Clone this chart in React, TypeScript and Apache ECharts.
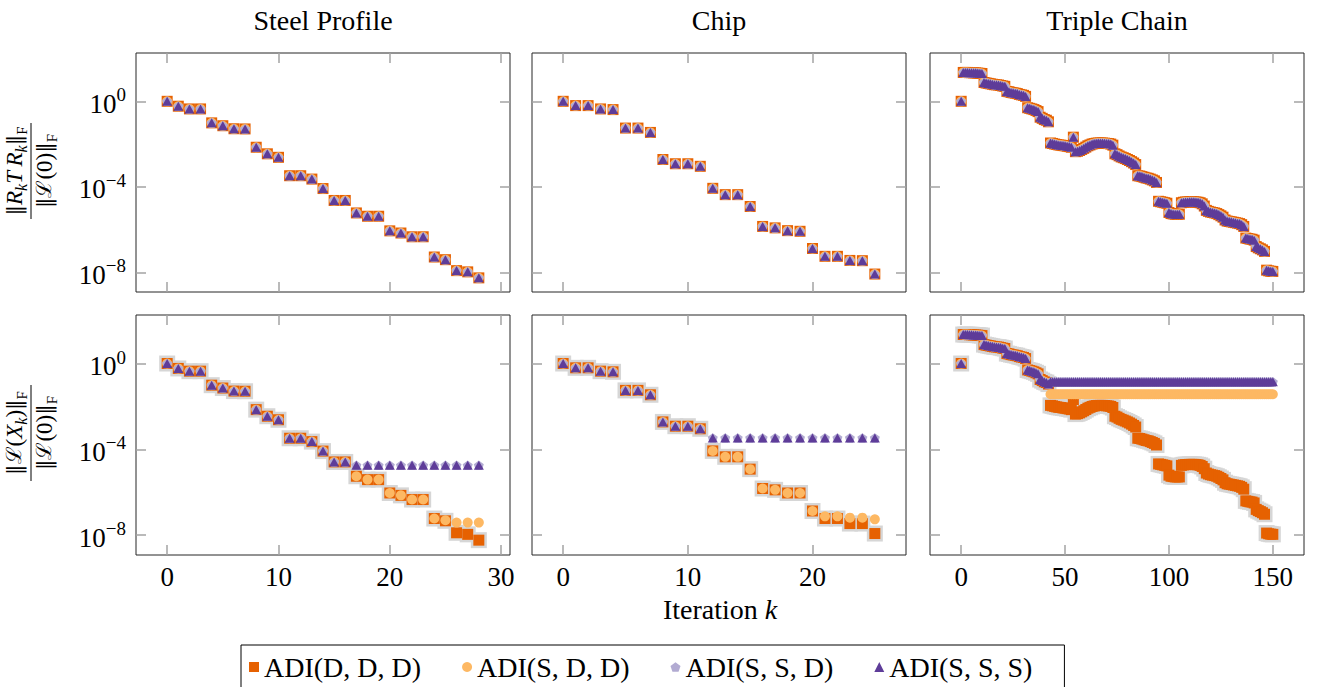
import React, { useEffect, useRef } from "react";
import * as echarts from "echarts";

// ---------------- data ----------------
const seriesNames = ["ADI(D, D, D)", "ADI(S, D, D)", "ADI(S, S, D)", "ADI(S, S, S)"];
const panelTitles = ["Steel Profile", "Chip", "Triple Chain"];
const xTicks = [
  [0, 10, 20, 30],
  [0, 10, 20],
  [0, 50, 100, 150],
];
const xRanges = [
  [-2.8, 30.8],
  [-2.5, 27.5],
  [-15, 165],
];
const yTicks = [1, 1e-4, 1e-8];
const yRange = [1.2e-9, 182];

// top row: normalized residual (all four variants coincide)
const steelRes = [
  1.0, 5.9e-1, 4.4e-1, 4.4e-1, 9.8e-2, 7.2e-2, 5.2e-2, 5.1e-2, 7.1e-3, 3.5e-3,
  2.4e-3, 3.3e-4, 3.3e-4, 2.3e-4, 8.3e-5, 2.3e-5, 2.3e-5, 6.0e-6, 4.2e-6, 4.2e-6,
  8.7e-7, 6.9e-7, 4.6e-7, 4.6e-7, 5.2e-8, 3.9e-8, 1.2e-8, 1.05e-8, 5.5e-9,
];
const chipRes = [
  1.0, 6.3e-1, 6.3e-1, 4.4e-1, 4.1e-1, 5.6e-2, 5.6e-2, 3.5e-2, 1.9e-3, 1.2e-3,
  1.2e-3, 9.1e-4, 8.5e-5, 4.3e-5, 4.3e-5, 1.2e-5, 1.4e-6, 1.2e-6, 8.9e-7, 8.3e-7,
  1.3e-7, 5.6e-8, 5.6e-8, 3.6e-8, 3.5e-8, 8.3e-9,
];
const chainRes = [
  1.0, 22.4, 22.4, 22.4, 21.9, 21.9, 21.4, 21.4, 20.9, 20.4,
  20.0, 7.6, 7.2, 6.9, 6.6, 6.3, 6.0, 5.9, 5.8, 5.5,
  5.2, 5.0, 2.9, 2.8, 2.6, 2.5, 2.4, 2.3, 2.1, 2.0,
  1.9, 1.7, 0.5, 0.47, 0.44, 0.41, 0.37, 0.33, 0.18, 0.16,
  0.14, 0.13, 0.11, 1.12e-2, 1.07e-2, 1.0e-2, 9.5e-3, 9.1e-3, 8.9e-3, 8.5e-3,
  8.3e-3, 7.9e-3, 7.6e-3, 7.1e-3, 2.1e-2, 4.4e-3, 4.6e-3, 5.0e-3, 5.6e-3, 6.3e-3,
  7.2e-3, 8.3e-3, 9.1e-3, 1.0e-2, 1.05e-2, 1.1e-2, 1.12e-2, 1.12e-2, 1.12e-2, 1.1e-2,
  1.07e-2, 1.05e-2, 1.0e-2, 8.9e-3, 3.5e-3, 3.2e-3, 2.8e-3, 2.5e-3, 2.3e-3, 2.1e-3,
  1.9e-3, 1.7e-3, 1.5e-3, 1.3e-3, 1.1e-3, 3.3e-4, 3.2e-4, 3.0e-4, 2.8e-4, 2.6e-4,
  2.5e-4, 2.3e-4, 2.1e-4, 1.9e-4, 1.6e-4, 2.1e-5, 2.0e-5, 1.9e-5, 1.8e-5, 1.7e-5,
  6.3e-6, 5.6e-6, 5.4e-6, 5.2e-6, 5.2e-6, 5.2e-6, 1.8e-5, 1.9e-5, 1.95e-5, 1.95e-5,
  2.0e-5, 2.0e-5, 2.0e-5, 1.95e-5, 1.9e-5, 1.8e-5, 1.6e-5, 1.26e-5, 7.9e-6, 7.1e-6,
  6.6e-6, 6.3e-6, 6.0e-6, 5.6e-6, 5.0e-6, 4.4e-6, 3.8e-6, 2.8e-6, 2.5e-6, 2.4e-6,
  2.3e-6, 2.2e-6, 2.1e-6, 2.0e-6, 1.9e-6, 1.7e-6, 1.4e-6, 4.0e-7, 3.8e-7, 3.6e-7,
  3.5e-7, 3.2e-7, 1.6e-7, 1.4e-7, 1.26e-7, 1.12e-7, 9.5e-8, 1.26e-8, 1.17e-8, 1.12e-8,
  1.1e-8,
];

// bottom row: normalized Lyapunov residual of X_k
const steelErrDDD = [
  1.0, 5.9e-1, 4.4e-1, 4.4e-1, 9.8e-2, 7.2e-2, 5.2e-2, 5.1e-2, 7.1e-3, 3.5e-3,
  2.4e-3, 3.3e-4, 3.3e-4, 2.3e-4, 8.3e-5, 2.6e-5, 2.6e-5, 5.6e-6, 3.9e-6, 3.9e-6,
  9.3e-7, 7.2e-7, 4.6e-7, 4.6e-7, 6.0e-8, 4.7e-8, 1.3e-8, 1.1e-8, 5.9e-9,
];
const steelErrSDD = [
  1.0, 5.9e-1, 4.4e-1, 4.4e-1, 9.8e-2, 7.2e-2, 5.2e-2, 5.1e-2, 7.1e-3, 3.5e-3,
  2.4e-3, 3.3e-4, 3.3e-4, 2.3e-4, 8.3e-5, 2.6e-5, 2.6e-5, 5.6e-6, 3.9e-6, 3.9e-6,
  9.3e-7, 7.2e-7, 4.6e-7, 4.6e-7, 6.0e-8, 5.0e-8, 3.9e-8, 3.9e-8, 3.9e-8,
];
const steelErrSSS = [
  1.0, 5.9e-1, 4.4e-1, 4.4e-1, 9.8e-2, 7.2e-2, 5.2e-2, 5.1e-2, 7.1e-3, 3.5e-3,
  2.4e-3, 3.3e-4, 3.3e-4, 2.3e-4, 8.3e-5, 2.6e-5, 2.6e-5, 1.8e-5, 1.8e-5, 1.8e-5,
  1.8e-5, 1.8e-5, 1.8e-5, 1.8e-5, 1.8e-5, 1.8e-5, 1.8e-5, 1.8e-5, 1.8e-5,
];
const chipErrDDD = [
  1.0, 6.3e-1, 6.3e-1, 4.4e-1, 4.1e-1, 5.6e-2, 5.6e-2, 3.5e-2, 1.9e-3, 1.2e-3,
  1.2e-3, 9.1e-4, 8.5e-5, 4.5e-5, 4.5e-5, 1.2e-5, 1.5e-6, 1.3e-6, 9.3e-7, 9.3e-7,
  1.35e-7, 6.0e-8, 6.0e-8, 3.5e-8, 3.5e-8, 1.2e-8,
];
const chipErrSDD = [
  1.0, 6.3e-1, 6.3e-1, 4.4e-1, 4.1e-1, 5.6e-2, 5.6e-2, 3.5e-2, 1.9e-3, 1.2e-3,
  1.2e-3, 9.1e-4, 8.5e-5, 4.5e-5, 4.5e-5, 1.2e-5, 1.5e-6, 1.3e-6, 9.3e-7, 9.3e-7,
  1.35e-7, 7.6e-8, 7.6e-8, 6.6e-8, 6.6e-8, 5.5e-8,
];
const chipErrSSS = [
  1.0, 6.3e-1, 6.3e-1, 4.4e-1, 4.1e-1, 5.6e-2, 5.6e-2, 3.5e-2, 1.9e-3, 1.2e-3,
  1.2e-3, 9.1e-4, 3.4e-4, 3.4e-4, 3.4e-4, 3.4e-4, 3.4e-4, 3.4e-4, 3.4e-4, 3.4e-4,
  3.4e-4, 3.4e-4, 3.4e-4, 3.4e-4, 3.4e-4, 3.4e-4,
];
// Triple Chain: ADI(D,D,D) error follows the residual; the others stagnate from k = 43 on
const chainErrDDD = chainRes;
const chainSDDTail = [
  3.7e-2, 3.7e-2, 3.7e-2, 3.7e-2, 3.7e-2, 3.7e-2, 3.7e-2, 3.7e-2, 3.7e-2, 3.7e-2,
  3.7e-2, 3.7e-2, 3.7e-2, 3.7e-2, 3.7e-2, 3.7e-2, 3.7e-2, 3.7e-2, 3.7e-2, 3.7e-2,
  3.7e-2, 3.7e-2, 3.7e-2, 3.7e-2, 3.7e-2, 3.7e-2, 3.7e-2, 3.7e-2, 3.7e-2, 3.7e-2,
  3.7e-2, 3.7e-2, 3.7e-2, 3.7e-2, 3.7e-2, 3.7e-2, 3.7e-2, 3.7e-2, 3.7e-2, 3.7e-2,
  3.7e-2, 3.7e-2, 3.7e-2, 3.7e-2, 3.7e-2, 3.7e-2, 3.7e-2, 3.7e-2, 3.7e-2, 3.7e-2,
  3.7e-2, 3.7e-2, 3.7e-2, 3.7e-2, 3.7e-2, 3.7e-2, 3.7e-2, 3.7e-2, 3.7e-2, 3.7e-2,
  3.7e-2, 3.7e-2, 3.7e-2, 3.7e-2, 3.7e-2, 3.7e-2, 3.7e-2, 3.7e-2, 3.7e-2, 3.7e-2,
  3.7e-2, 3.7e-2, 3.7e-2, 3.7e-2, 3.7e-2, 3.7e-2, 3.7e-2, 3.7e-2, 3.7e-2, 3.7e-2,
  3.7e-2, 3.7e-2, 3.7e-2, 3.7e-2, 3.7e-2, 3.7e-2, 3.7e-2, 3.7e-2, 3.7e-2, 3.7e-2,
  3.7e-2, 3.7e-2, 3.7e-2, 3.7e-2, 3.7e-2, 3.7e-2, 3.7e-2, 3.7e-2, 3.7e-2, 3.7e-2,
  3.7e-2, 3.7e-2, 3.7e-2, 3.7e-2, 3.7e-2, 3.7e-2, 3.7e-2, 3.7e-2,
];
const chainSSSTail = [
  0.14, 0.14, 0.14, 0.14, 0.14, 0.14, 0.14, 0.14, 0.14, 0.14,
  0.14, 0.14, 0.14, 0.14, 0.14, 0.14, 0.14, 0.14, 0.14, 0.14,
  0.14, 0.14, 0.14, 0.14, 0.14, 0.14, 0.14, 0.14, 0.14, 0.14,
  0.14, 0.14, 0.14, 0.14, 0.14, 0.14, 0.14, 0.14, 0.14, 0.14,
  0.14, 0.14, 0.14, 0.14, 0.14, 0.14, 0.14, 0.14, 0.14, 0.14,
  0.14, 0.14, 0.14, 0.14, 0.14, 0.14, 0.14, 0.14, 0.14, 0.14,
  0.14, 0.14, 0.14, 0.14, 0.14, 0.14, 0.14, 0.14, 0.14, 0.14,
  0.14, 0.14, 0.14, 0.14, 0.14, 0.14, 0.14, 0.14, 0.14, 0.14,
  0.14, 0.14, 0.14, 0.14, 0.14, 0.14, 0.14, 0.14, 0.14, 0.14,
  0.14, 0.14, 0.14, 0.14, 0.14, 0.14, 0.14, 0.14, 0.14, 0.14,
  0.14, 0.14, 0.14, 0.14, 0.14, 0.14, 0.14, 0.14,
];
const chainErrSDD = chainRes.slice(0, 43).concat(chainSDDTail);
const chainErrSSS = chainRes.slice(0, 43).concat(chainSSSTail);

// ---------------- styling ----------------
const FONT = "Liberation Serif";
const SYM_FONT = "DejaVu Serif";
const COLORS = ["#e66101", "#fdb863", "#b2abd2", "#5e3c99"];
const PENTAGON = "path://M0,-10L9.511,-3.09L5.878,8.09L-5.878,8.09L-9.511,-3.09Z";
const SYMBOLS = ["rect", "circle", PENTAGON, "triangle"];
const SIZES: any[] = [11, 10, 10, [10, 9]];
const GRID_LEFT = [136, 532, 930];
const GRID_W = 374;
const GRID_TOP = [53, 315];
const GRID_H = [239, 240];
const FS = 27;
const FS_TEXT = 28;

const toPoints = (vals: number[]) => vals.map((v, k) => [k, v]);

const mathRich = {
  n: { fontFamily: SYM_FONT, fontSize: 21, lineHeight: 26, verticalAlign: "top", color: "#000" },
  r: { fontFamily: FONT, fontSize: 23, lineHeight: 26, verticalAlign: "top", color: "#000" },
  i: { fontFamily: FONT, fontStyle: "italic", fontSize: 23, lineHeight: 26, verticalAlign: "top", color: "#000" },
  L: { fontFamily: SYM_FONT, fontSize: 21, lineHeight: 26, verticalAlign: "top", color: "#000" },
  s: { fontFamily: FONT, fontStyle: "italic", fontSize: 16, lineHeight: 15, verticalAlign: "bottom", color: "#000" },
  f: { fontFamily: FONT, fontSize: 15, lineHeight: 15, verticalAlign: "bottom", color: "#000" },
};

function fraction(cx: number, cy: number, num: string, den: string) {
  return {
    type: "group",
    x: cx,
    y: cy,
    rotation: Math.PI / 2,
    silent: true,
    children: [
      {
        type: "text",
        x: 0,
        y: -2,
        style: { text: num, rich: mathRich, align: "center", verticalAlign: "bottom", textAlign: "center", textVerticalAlign: "bottom" },
      },
      {
        type: "line",
        shape: { x1: -48, y1: 0, x2: 48, y2: 0 },
        style: { stroke: "#000", lineWidth: 1 },
      },
      {
        type: "text",
        x: 0,
        y: 2,
        style: { text: den, rich: mathRich, align: "center", verticalAlign: "top", textAlign: "center", textVerticalAlign: "top" },
      },
    ],
  };
}

function buildOption() {
  const grid: any[] = [];
  const xAxis: any[] = [];
  const yAxis: any[] = [];
  const series: any[] = [];
  const tick = { show: true, inside: true, length: 10, lineStyle: { color: "#a3a3a3", width: 1.5 } };
  const topData = [steelRes, chipRes, chainRes];
  const bottomData = [
    [steelErrDDD, steelErrSDD, steelErrSSS, steelErrSSS],
    [chipErrDDD, chipErrSDD, chipErrSSS, chipErrSSS],
    [chainErrDDD, chainErrSDD, chainErrSSS, chainErrSSS],
  ];
  const yFormatter = (v: number) => {
    const e = Math.round(Math.log10(v));
    return `{b|10}{s|${e === 0 ? "0" : "\u2212" + -e}}`;
  };

  for (let row = 0; row < 2; row++) {
    for (let col = 0; col < 3; col++) {
      const gi = row * 3 + col;
      grid.push({
        left: GRID_LEFT[col],
        top: GRID_TOP[row],
        width: GRID_W,
        height: GRID_H[row],
        show: true,
        borderColor: "#262626",
        borderWidth: 1,
        backgroundColor: "transparent",
        containLabel: false,
        outerBoundsMode: "none",
      });
      const [xmin, xmax] = xRanges[col];
      xAxis.push({
        type: "value",
        gridIndex: gi,
        position: "bottom",
        min: xmin,
        max: xmax,
        axisLine: { show: false, onZero: false },
        splitLine: { show: false },
        axisTick: { ...tick, customValues: xTicks[col] },
        axisLabel: {
          show: row === 1,
          customValues: xTicks[col],
          margin: 8,
          fontFamily: FONT,
          fontSize: FS,
          color: "#000",
        },
      });
      xAxis.push({
        type: "value",
        gridIndex: gi,
        position: "top",
        min: xmin,
        max: xmax,
        axisLine: { show: false, onZero: false },
        splitLine: { show: false },
        axisTick: { ...tick, customValues: xTicks[col] },
        axisLabel: { show: false },
      });
      yAxis.push({
        type: "log",
        logBase: 10,
        gridIndex: gi,
        position: "left",
        min: yRange[0],
        max: yRange[1],
        axisLine: { show: false, onZero: false },
        splitLine: { show: false },
        axisTick: { ...tick, customValues: yTicks },
        axisLabel: {
          show: col === 0,
          customValues: yTicks,
          margin: 10,
          formatter: yFormatter,
          color: "#000",
          fontFamily: FONT,
          rich: {
            b: { fontFamily: FONT, fontSize: FS, lineHeight: 32, verticalAlign: "bottom", color: "#000" },
            s: { fontFamily: FONT, fontSize: 19, lineHeight: 18, verticalAlign: "top", color: "#000" },
          },
        },
      });
      yAxis.push({
        type: "log",
        logBase: 10,
        gridIndex: gi,
        position: "right",
        min: yRange[0],
        max: yRange[1],
        axisLine: { show: false, onZero: false },
        splitLine: { show: false },
        axisTick: { ...tick, customValues: yTicks },
        axisLabel: { show: false },
      });

      const xi = gi * 2;
      const yi = gi * 2;
      if (row === 1) {
        // light grey halo behind the ADI(D, D, D) squares
        series.push({
          type: "scatter",
          name: "halo",
          data: toPoints(bottomData[col][0]),
          xAxisIndex: xi,
          yAxisIndex: yi,
          symbol: "rect",
          symbolSize: 16,
          itemStyle: { color: "#d6d6d6", opacity: 1 },
          silent: true,
        });
      }
      for (let s = 0; s < 4; s++) {
        const vals = row === 0 ? topData[col] : bottomData[col][s];
        series.push({
          type: "scatter",
          name: seriesNames[s],
          data: toPoints(vals),
          xAxisIndex: xi,
          yAxisIndex: yi,
          symbol: SYMBOLS[s],
          symbolSize: SIZES[s],
          symbolKeepAspect: s === 2,
          itemStyle: { color: COLORS[s], opacity: 1, borderWidth: 0 },
          silent: true,
        });
      }
    }
  }

  const graphic: any[] = [];
  panelTitles.forEach((t, i) => {
    graphic.push({
      type: "text",
      x: GRID_LEFT[i] + GRID_W / 2,
      y: 20,
      silent: true,
      style: {
        text: t,
        fontFamily: FONT,
        fontSize: FS_TEXT,
        fill: "#000",
        align: "center",
        verticalAlign: "middle",
        textAlign: "center",
        textVerticalAlign: "middle",
      },
    });
  });
  graphic.push({
    type: "text",
    x: 720,
    y: 609,
    silent: true,
    style: {
      text: "{r|Iteration }{i|k}",
      rich: {
        r: { fontFamily: FONT, fontSize: FS_TEXT, color: "#000" },
        i: { fontFamily: FONT, fontSize: FS_TEXT, fontStyle: "italic", color: "#000" },
      },
      align: "center",
      verticalAlign: "middle",
      textAlign: "center",
      textVerticalAlign: "middle",
    },
  });
  graphic.push(
    fraction(31, 171, "{n|\u2016}{i|R}{s|k}{i|T\u2009R}{s|k}{n|\u2016}{f|F}", "{n|\u2016}{L|\u2112}{r|(0)}{n|\u2016}{f|F}")
  );
  graphic.push(
    fraction(31, 433, "{n|\u2016}{L|\u2112}{r|(}{i|X}{s|k}{r|)}{n|\u2016}{f|F}", "{n|\u2016}{L|\u2112}{r|(0)}{n|\u2016}{f|F}")
  );

  return {
    animation: false,
    backgroundColor: "#fff",
    textStyle: { fontFamily: FONT },
    grid,
    xAxis,
    yAxis,
    series,
    graphic,
    legend: {
      data: seriesNames,
      left: 241,
      top: 645,
      orient: "horizontal",
      itemWidth: 10,
      itemHeight: 10,
      itemGap: 41,
      padding: [8, 32, 8, 8],
      borderColor: "#000",
      borderWidth: 1,
      borderRadius: 0,
      selectedMode: false,
      itemStyle: { borderWidth: 0 },
      textStyle: { fontFamily: FONT, fontSize: FS_TEXT, color: "#000", lineHeight: 28 },
    },
  };
}

export default function App() {
  const ref = useRef<HTMLDivElement>(null);
  useEffect(() => {
    if (!ref.current) return;
    const chart = echarts.init(ref.current, undefined, { renderer: "svg" });
    chart.setOption(buildOption() as any);
    return () => chart.dispose();
  }, []);
  return (
    <div
      ref={ref}
      style={{ position: "fixed", left: 0, top: 0, width: 1323, height: 687, background: "#fff" }}
    />
  );
}
